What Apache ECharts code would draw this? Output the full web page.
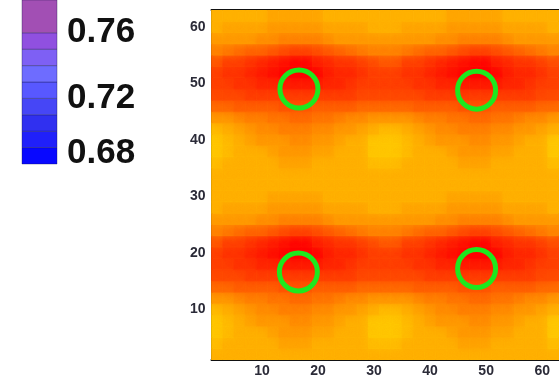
<!DOCTYPE html>
<html>
<head>
<meta charset="utf-8">
<script src="https://cdn.jsdelivr.net/npm/echarts/dist/echarts.min.js"></script>
<style>
html, body { margin: 0; padding: 0; background: #fff; }
#main { width: 559px; height: 378px; }
</style>
</head>
<body>
<div id="main"></div>
<script>
// cell centres of the field (2 x 2 cells)
var xCells = [2,4,6,8,10,12,14,16,18,20,22,24,26,28,30,32,34,36,38,40,42,44,46,48,50,52,54,56,58,60,62];
var yCells = [2,4,6,8,10,12,14,16,18,20,22,24,26,28,30,32,34,36,38,40,42,44,46,48,50,52,54,56,58,60,62];

// field level per cell, one row per yCells entry (0 = light yellow, 18 = red)
var zRows = [
    [2,2,2,2,2,2,2,2,2,2,2,2,2,2,2,2,2,2,2,2,2,2,2,2,2,2,2,2,2,2,2],
    [1,2,2,2,2,2,3,3,3,2,2,2,2,2,1,1,1,2,2,2,2,2,3,3,3,2,2,2,2,2,1],
    [0,1,2,2,2,3,4,4,4,3,3,2,2,2,0,0,0,1,2,2,2,3,4,4,4,3,3,2,2,2,0],
    [0,1,2,3,4,4,4,5,5,4,4,3,2,2,0,0,0,1,2,3,4,4,4,5,5,4,4,3,2,2,0],
    [1,2,3,4,5,5,6,6,6,5,5,4,4,3,2,1,1,2,3,4,5,5,6,6,6,5,5,4,4,3,2],
    [4,4,5,6,6,7,7,8,8,7,7,6,5,5,4,4,4,4,5,6,6,7,7,8,8,7,7,6,5,5,4],
    [8,8,9,9,9,9,10,10,10,9,9,9,9,8,8,8,8,8,9,9,9,9,10,10,10,9,9,9,9,8,8],
    [11,11,11,12,12,12,12,12,12,12,12,12,12,11,11,11,11,11,11,12,12,12,12,12,12,12,12,12,12,11,11],
    [12,12,13,13,14,14,15,15,15,15,14,14,13,12,12,12,12,12,13,13,14,14,15,15,15,15,14,14,13,12,12],
    [12,13,13,14,15,16,17,18,18,17,15,14,14,13,12,12,12,13,13,14,15,16,17,18,18,17,15,14,14,13,12],
    [10,12,12,13,14,15,16,17,17,15,14,13,13,12,11,10,10,12,12,13,14,15,16,17,17,15,14,13,13,12,11],
    [6,7,8,9,9,10,11,12,12,11,10,9,8,7,6,6,6,7,8,9,9,10,11,12,12,11,10,9,8,7,6],
    [4,4,4,4,5,5,6,6,6,6,5,4,4,4,4,4,4,4,4,4,5,5,6,6,6,6,5,4,4,4,4],
    [2,3,3,3,3,4,4,4,4,4,3,3,3,3,2,2,2,3,3,3,3,4,4,4,4,4,3,3,3,3,2],
    [2,2,2,2,2,3,3,3,3,3,2,2,2,2,2,2,2,2,2,2,2,3,3,3,3,3,2,2,2,2,2],
    [2,2,2,2,2,2,2,2,2,2,2,2,2,2,2,2,2,2,2,2,2,2,2,2,2,2,2,2,2,2,2],
    [2,2,2,2,2,2,2,2,2,2,2,2,2,2,2,2,2,2,2,2,2,2,2,2,2,2,2,2,2,2,2],
    [1,2,2,2,2,2,3,3,3,2,2,2,2,2,1,1,1,2,2,2,2,2,3,3,3,2,2,2,2,2,1],
    [0,1,2,2,2,3,4,4,4,3,3,2,2,2,0,0,0,1,2,2,2,3,4,4,4,3,3,2,2,2,0],
    [0,1,2,3,4,4,4,5,5,4,4,3,2,2,0,0,0,1,2,3,4,4,4,5,5,4,4,3,2,2,0],
    [1,2,3,4,5,5,6,6,6,5,5,4,4,3,2,1,1,2,3,4,5,5,6,6,6,5,5,4,4,3,2],
    [4,4,5,6,6,7,7,8,8,7,7,6,5,5,4,4,4,4,5,6,6,7,7,8,8,7,7,6,5,5,4],
    [8,8,9,9,9,9,10,10,10,9,9,9,9,8,8,8,8,8,9,9,9,9,10,10,10,9,9,9,9,8,8],
    [11,11,11,12,12,12,12,12,12,12,12,12,12,11,11,11,11,11,11,12,12,12,12,12,12,12,12,12,12,11,11],
    [12,12,13,13,14,14,15,15,15,15,14,14,13,12,12,12,12,12,13,13,14,14,15,15,15,15,14,14,13,12,12],
    [12,13,13,14,15,16,17,18,18,17,15,14,14,13,12,12,12,13,13,14,15,16,17,18,18,17,15,14,14,13,12],
    [10,12,12,13,14,15,16,17,17,15,14,13,13,12,11,10,10,12,12,13,14,15,16,17,17,15,14,13,13,12,11],
    [6,7,8,9,9,10,11,12,12,11,10,9,8,7,6,6,6,7,8,9,9,10,11,12,12,11,10,9,8,7,6],
    [4,4,4,4,5,5,6,6,6,6,5,4,4,4,4,4,4,4,4,4,5,5,6,6,6,6,5,4,4,4,4],
    [2,3,3,3,3,4,4,4,4,4,3,3,3,3,2,2,2,3,3,3,3,4,4,4,4,4,3,3,3,3,2],
    [2,2,2,2,2,3,3,3,3,3,2,2,2,2,2,2,2,2,2,2,2,3,3,3,3,3,2,2,2,2,2]
];

// green rings
var ringX = [16.6, 48.3, 16.5, 48.3];
var ringY = [49.0, 48.8, 16.6, 17.2];

// axis ticks
var xTicks = [10, 20, 30, 40, 50, 60];
var yTicks = [10, 20, 30, 40, 50, 60];

// colour bar on the left
var cbEdges = [0.68, 0.69, 0.70, 0.71, 0.72, 0.73, 0.74, 0.75, 0.76, 0.78];
var cbColors = ['#0808ff', '#2020fa', '#3030f0', '#4646f6', '#5858ff', '#6e6cff', '#7e60f4', '#9050e0', '#a24fb4'];
var cbTicks = [0.68, 0.72, 0.76];

var fieldData = [];
for (var j = 0; j < yCells.length; j++) {
    for (var i = 0; i < xCells.length; i++) {
        fieldData.push([xCells[i], yCells[j], zRows[j][i]]);
    }
}
var ringData = [];
for (var k = 0; k < ringX.length; k++) {
    ringData.push([ringX[k], ringY[k]]);
}
var cbData = [];
for (var b = 0; b < cbColors.length; b++) {
    cbData.push([cbEdges[b], cbEdges[b + 1], b]);
}

var font = '"Liberation Sans", Arial, sans-serif';
var axisLine = { show: true, lineStyle: { color: '#111', width: 2 } };

var myChart = echarts.init(document.getElementById('main'));
var option = {
    animation: false,
    backgroundColor: '#fff',
    grid: [
        { left: 211.5, top: 10, width: 351.5, height: 351.5 },
        { left: 22, top: -14, width: 35, height: 178 }
    ],
    visualMap: {
        type: 'continuous',
        show: false,
        seriesIndex: 0,
        dimension: 2,
        min: 0,
        max: 18,
        inRange: { color: ['#ffc800', '#ff0000'] }
    },
    xAxis: [
        {
            type: 'value', gridIndex: 0, min: 1, max: 63, position: 'bottom',
            axisLine: axisLine,
            axisTick: { inside: true, length: 4, customValues: xTicks, lineStyle: { color: '#111', width: 2 } },
            axisLabel: { customValues: xTicks, margin: 4, fontSize: 14, fontWeight: 'bold', color: '#2b2b38', fontFamily: font },
            splitLine: { show: false }
        },
        {
            type: 'value', gridIndex: 0, min: 1, max: 63, position: 'top',
            axisLine: axisLine,
            axisTick: { inside: true, length: 4, customValues: xTicks, lineStyle: { color: '#111', width: 2 } },
            axisLabel: { show: false },
            splitLine: { show: false }
        },
        { type: 'value', gridIndex: 1, min: 0, max: 1, show: false }
    ],
    yAxis: [
        {
            type: 'value', gridIndex: 0, min: 1, max: 63, position: 'left',
            axisLine: axisLine,
            axisTick: { inside: true, length: 4, customValues: yTicks, lineStyle: { color: '#111', width: 2 } },
            axisLabel: { customValues: yTicks, margin: 6, fontSize: 14, fontWeight: 'bold', color: '#2b2b38', fontFamily: font },
            splitLine: { show: false }
        },
        {
            type: 'value', gridIndex: 0, min: 1, max: 63, position: 'right',
            axisLine: axisLine,
            axisTick: { inside: true, length: 4, customValues: yTicks, lineStyle: { color: '#111', width: 2 } },
            axisLabel: { show: false },
            splitLine: { show: false }
        },
        {
            type: 'value', gridIndex: 1, min: 0.68, max: 0.78, position: 'right',
            axisLine: { show: false },
            axisTick: { show: false },
            splitLine: { show: false },
            axisLabel: {
                customValues: cbTicks,
                margin: 10,
                fontSize: 35,
                fontWeight: 'bold',
                color: '#111',
                fontFamily: font,
                formatter: function (v) {
                    return v < 0.7 ? '{lo|' + v.toFixed(2) + '}' : v.toFixed(2);
                },
                rich: {
                    lo: { fontSize: 35, fontWeight: 'bold', color: '#111', fontFamily: font, padding: [0, 0, 22, 0] }
                }
            }
        }
    ],
    series: [
        {
            type: 'custom',
            xAxisIndex: 0,
            yAxisIndex: 0,
            silent: true,
            clip: true,
            encode: { x: 0, y: 1 },
            data: fieldData,
            renderItem: function (params, api) {
                var p0 = api.coord([api.value(0) - 1, api.value(1) + 1]);
                var p1 = api.coord([api.value(0) + 1, api.value(1) - 1]);
                var c = api.visual('color');
                return {
                    type: 'rect',
                    shape: { x: p0[0], y: p0[1], width: p1[0] - p0[0], height: p1[1] - p0[1] },
                    style: { fill: c, stroke: c, lineWidth: 0.6, shadowBlur: 9, shadowColor: c }
                };
            }
        },
        {
            type: 'scatter',
            xAxisIndex: 0,
            yAxisIndex: 0,
            silent: true,
            z: 5,
            data: ringData,
            symbol: 'circle',
            symbolSize: 38,
            itemStyle: { color: 'rgba(0,0,0,0)', borderColor: '#1ee81e', borderWidth: 5, opacity: 1 }
        },
        {
            type: 'custom',
            xAxisIndex: 2,
            yAxisIndex: 2,
            silent: true,
            encode: { y: [0, 1] },
            data: cbData,
            renderItem: function (params, api) {
                var p0 = api.coord([0, api.value(1)]);
                var p1 = api.coord([1, api.value(0)]);
                return {
                    type: 'rect',
                    shape: { x: p0[0], y: p0[1], width: p1[0] - p0[0], height: p1[1] - p0[1] },
                    style: { fill: cbColors[api.value(2)], stroke: 'rgba(20,20,70,0.35)', lineWidth: 1 }
                };
            }
        }
    ]
};
myChart.setOption(option);
</script>
</body>
</html>
